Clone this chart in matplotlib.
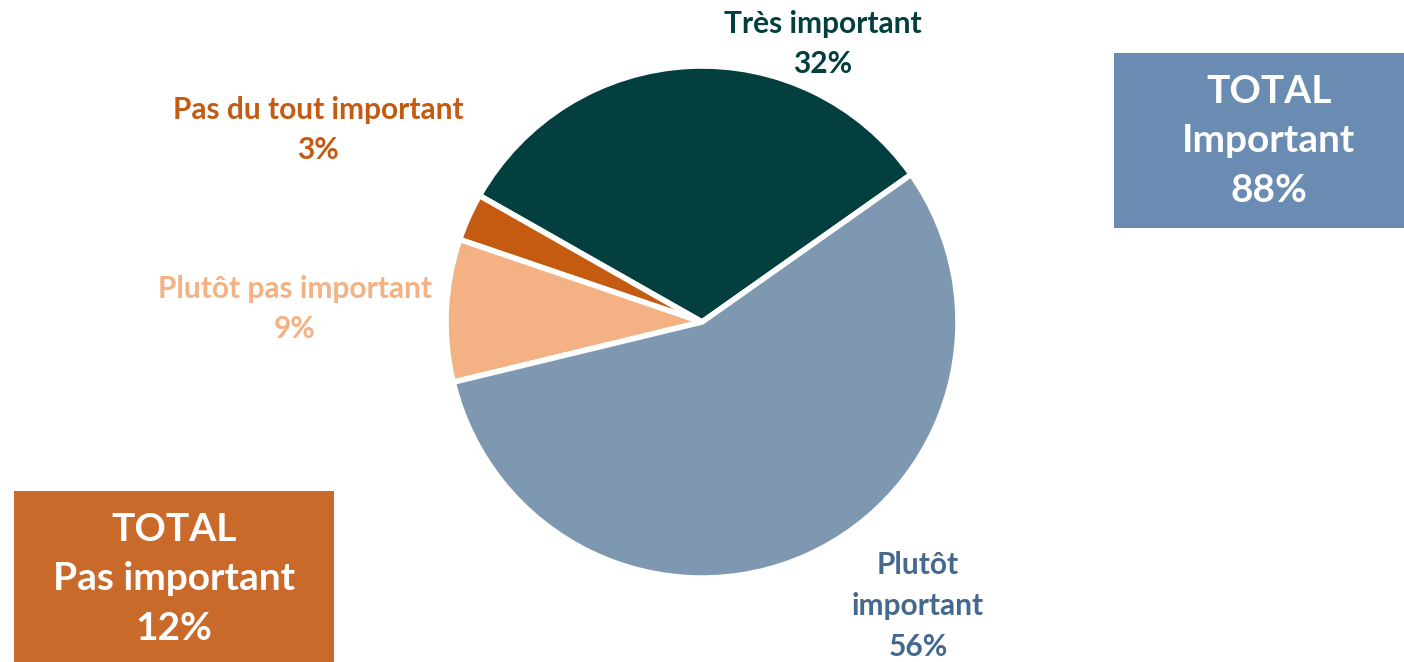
import matplotlib.pyplot as plt

# survey shares
labels = ["Très important", "Pas du tout important", "Plutôt pas important", "Plutôt important"]
shares = [32, 3, 9, 56]
slice_colors = ["#023F3E", "#C55A11", "#F4B183", "#7F98B1"]
label_colors = ["#023F3E", "#C55A11", "#F4B183", "#45688F"]

total_important = 88
total_pas_important = 12

plt.rcParams['font.family'] = ['Lato', 'DejaVu Sans']

W, H = 1404, 662
fig = plt.figure(figsize=(W / 100, H / 100), dpi=100)
ax = fig.add_axes([0, 0, 1, 1])

# pie in pixel-like coordinates (y up)
cx, cy, r = 702, H - 322, 256
ax.pie(shares, colors=slice_colors, startangle=35.2, counterclock=True,
       center=(cx, cy), radius=r, explode=[0.015, 0, 0, 0.035],
       wedgeprops=dict(edgecolor="white", linewidth=4), frame=True)
ax.set_xlim(0, W)
ax.set_ylim(0, H)
ax.set_aspect('equal')
ax.axis('off')

# slice labels
label_pos = [(823, 44), (318, 130), (295, 309), (918, 606)]
label_text = [
    f"{labels[0]}\n{shares[0]}%",
    f"{labels[1]}\n{shares[1]}%",
    f"{labels[2]}\n{shares[2]}%",
    f"Plutôt\nimportant\n{shares[3]}%",
]
for (x, y), txt, col in zip(label_pos, label_text, label_colors):
    ax.text(x, H - y, txt, ha="center", va="center", color=col,
            fontsize=21.5, fontweight="bold", linespacing=1.55)

# total boxes
ax.add_patch(plt.Rectangle((1114, H - 228), 290, 175, color="#6A8CB2", lw=0))
ax.text(1269, H - 141, f"TOTAL\nImportant\n{total_important}%", ha="center", va="center",
        color="white", fontsize=28, fontweight="bold", linespacing=1.5)

ax.add_patch(plt.Rectangle((14, 0), 320, H - 491, color="#C9692A", lw=0))
ax.text(174, H - 579, f"TOTAL\nPas important\n{total_pas_important}%", ha="center", va="center",
        color="white", fontsize=28, fontweight="bold", linespacing=1.5)

fig.savefig("out.png", dpi=100)
